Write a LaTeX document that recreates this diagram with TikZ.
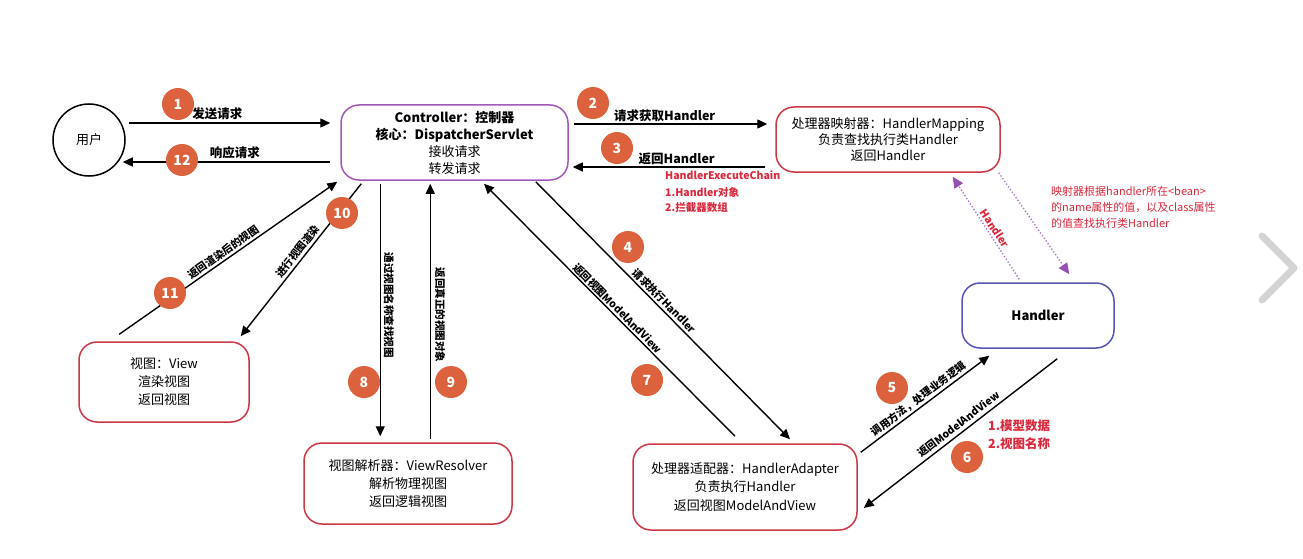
\documentclass[tikz,border=0pt]{standalone}
\usepackage{fontspec}
\setmainfont{Noto Sans CJK SC}
\usetikzlibrary{arrows.meta}
\definecolor{numor}{RGB}{220,98,62}
\definecolor{ctrlpur}{RGB}{163,89,186}
\definecolor{boxred}{RGB}{205,55,70}
\definecolor{hdlblue}{RGB}{85,85,185}
\definecolor{annred}{RGB}{220,40,60}
\definecolor{dotpur}{RGB}{165,115,195}
\definecolor{tippur}{RGB}{150,80,180}
\begin{document}
\begin{tikzpicture}[x=1pt,y=-1pt,
  box/.style={draw, rounded corners=18pt, line width=1.5pt, align=center, inner sep=0pt, font=\fontsize{13}{18}\selectfont},
  arr/.style={line width=1.4pt, -{Triangle[length=10pt,width=9pt]}},
  dotarr/.style={dotpur, line width=1.3pt, dotted, -{Triangle[length=11pt,width=10pt,color=tippur]}},
  num/.style={circle, fill=numor, text=white, font=\bfseries\fontsize{14}{14}\selectfont, minimum size=32pt, inner sep=0pt},
  lab/.style={font=\bfseries\fontsize{12.5}{13}\selectfont, inner sep=1pt},
  slab/.style={font=\bfseries\fontsize{10.5}{11}\selectfont, inner sep=0pt},
  ann/.style={text=annred, anchor=west, inner sep=0pt}
]
\useasboundingbox (0,0) rectangle (1303,559);
\fill[white] (0,0) rectangle (1303,559);

% nodes
\node[draw, circle, line width=1.5pt, minimum size=72pt, inner sep=0pt, font=\fontsize{13}{13}\selectfont] (user) at (89,140) {用户};
\node[box, draw=ctrlpur, minimum width=227pt, minimum height=75pt, font=\fontsize{13}{17}\selectfont] (ctrl) at (454.5,142.5)
  {\textbf{Controller：控制器}\\\textbf{核心：DispatcherServlet}\\接收请求\\转发请求};
\node[box, draw=boxred, minimum width=224pt, minimum height=65pt, font=\fontsize{13}{16}\selectfont] (hm) at (888,139.5)
  {处理器映射器：HandlerMapping\\负责查找执行类Handler\\返回Handler};
\node[box, draw=hdlblue, minimum width=152pt, minimum height=65pt, font=\bfseries\fontsize{13}{16}\selectfont] (hdl) at (1038,315.5) {Handler};
\node[box, draw=boxred, minimum width=170pt, minimum height=80pt] (view) at (164,382)
  {视图：View\\渲染视图\\返回视图};
\node[box, draw=boxred, minimum width=208pt, minimum height=81pt] (vr) at (408,483.5)
  {视图解析器：ViewResolver\\解析物理视图\\返回逻辑视图};
\node[box, draw=boxred, minimum width=224pt, minimum height=86pt, font=\fontsize{13}{18.5}\selectfont] (ha) at (745,487)
  {处理器适配器：HandlerAdapter\\负责执行Handler\\返回视图ModelAndView};

% connectors
\draw[arr] ([shift={(3,-17)}]user.east) -- node[lab, pos=0.44, above=1pt] (l1) {发送请求} ([shift={(-10,-19.5)}]ctrl.west);
\draw[arr] ([shift={(-10,19.5)}]ctrl.west) -- node[lab, pos=0.46, above=1pt] (l12) {响应请求} ([shift={(-3,22)}]user.east);
\draw[arr] ([shift={(5,-18.5)}]ctrl.east) -- node[lab, pos=0.47, above=1pt] (l2) {请求获取Handler} ([shift={(-8,-15.5)}]hm.west);
\draw[arr] ([shift={(-10,27.5)}]hm.west) -- node[lab, pos=0.46, above=1pt] (l3) {返回Handler} ([shift={(4,24.5)}]ctrl.east);
\draw[arr] ([shift={(-33,1)}]ctrl.south east) -- ([shift={(45,-4)}]ha.north);
\draw[arr] ([shift={(-10,-7)}]ha.north) -- ([shift={(29.5,3)}]ctrl.south);
\draw[arr] ([shift={(40,3)}]ctrl.south west) -- ([shift={(77,-6)}]vr.north west);
\draw[arr] ([shift={(127,-3)}]vr.north west) -- ([shift={(90,3)}]ctrl.south west);
\draw[arr] ([shift={(21,3)}]ctrl.south west) -- ([shift={(-9,-5)}]view.north east);
\draw[arr] ([shift={(41,-7)}]view.north west) -- ([shift={(-3,1)}]ctrl.south west);
\draw[arr] ([shift={(3,9)}]ha.north east) -- ([shift={(28,7)}]hdl.south west);
\draw[arr] ([shift={(96,10)}]hdl.south west) -- ([shift={(6,21)}]ha.east);
\draw[dotarr] ([shift={(58,-3)}]hdl.north west) -- ([shift={(-48,4)}]hm.south east);
\draw[dotarr] ([shift={(-2,0)}]hm.south east) -- ([shift={(108,-8)}]hdl.north west);

% connector labels along slanted / vertical lines
\node[slab, rotate=-45.45] (l4) at (664.4,301) {请求执行Handler};
\node[slab, rotate=-45.3] (l7) at (617.8,308.4) {返回视图ModelAndView};
\node[slab, rotate=-90] (l8) at (389,305) {通过视图名称查找视图};
\node[slab, rotate=-90] (l9) at (440,315) {返回真正的视图对象};
\node[slab, rotate=51.6] (l10) at (297.8,251.2) {进行视图渲染};
\node[slab, rotate=35.2] (l11) at (223.3,252.3) {返回渲染后的视图};
\node[slab, rotate=37] (l5) at (918.5,398.9) {调用方法，处理业务逻辑};
\node[slab, rotate=37.6] (l6) at (958.7,424.3) {返回ModelAndView};
\node[slab, text=annred, rotate=-56.8] (lh) at (994.8,228.6) {Handler};

% numbered circles
\node[num] (c1) at (178,104) {1};
\node[num] (c12) at (182,160) {12};
\node[num] (c2) at (593,103) {2};
\node[num] (c3) at (617,148) {3};
\node[num] (c4) at (628,247) {4};
\node[num] (c7) at (647,380) {7};
\node[num] (c8) at (364,382) {8};
\node[num] (c9) at (451,382) {9};
\node[num] (c10) at (342,213) {10};
\node[num] (c11) at (170,293) {11};
\node[num] (c5) at (892,388) {5};
\node[num] (c6) at (967,457) {6};

% annotations
\node[ann, font=\bfseries\fontsize{10.5}{11}\selectfont] (a1) at (665,175) {HandlerExecuteChain};
\node[ann, font=\bfseries\fontsize{10.5}{11}\selectfont] (a2) at (665,192) {1.Handler对象};
\node[ann, font=\bfseries\fontsize{10.5}{11}\selectfont] (a3) at (665,208) {2.拦截器数组};
\node[ann, font=\fontsize{11}{11}\selectfont] (a4) at (1051,191) {映射器根据handler所在<bean>};
\node[ann, font=\fontsize{11}{11}\selectfont] (a5) at (1051,207) {的name属性的值，以及class属性};
\node[ann, font=\fontsize{11}{11}\selectfont] (a6) at (1051,223) {的值查找执行类Handler};
\node[ann, font=\bfseries\fontsize{12.5}{13}\selectfont] (a7) at (988,426) {1.模型数据};
\node[ann, font=\bfseries\fontsize{12.5}{13}\selectfont] (a8) at (988,444) {2.视图名称};

% browser chevron
\draw[line width=7pt, color=black!17, line cap=round, line join=round] (1262,236) -- (1294,268) -- (1262,300);
\end{tikzpicture}
\end{document}
